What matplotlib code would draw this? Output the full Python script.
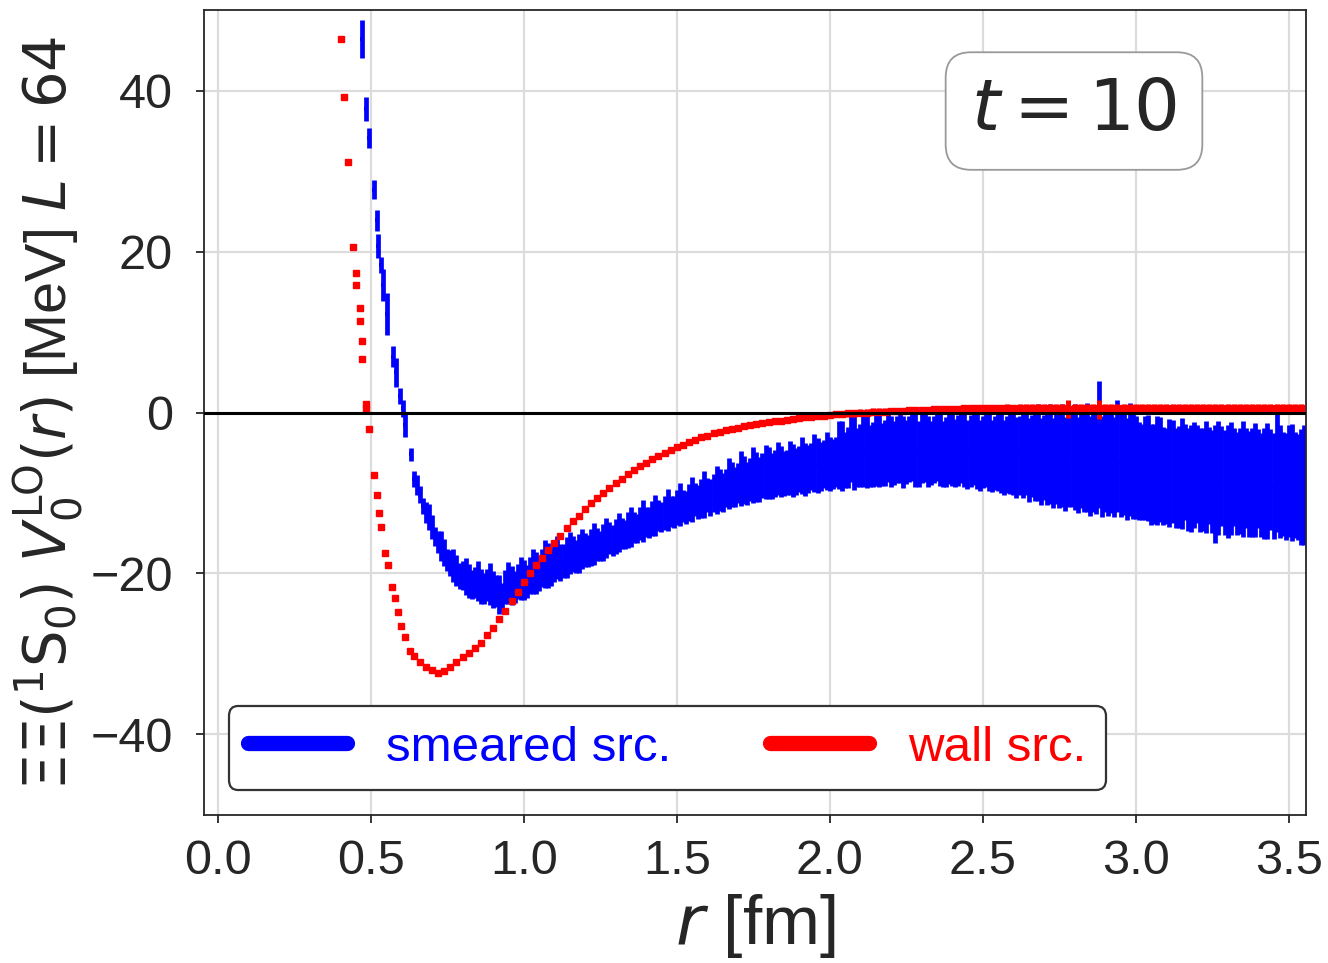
import matplotlib
matplotlib.use("Agg")
import matplotlib.pyplot as plt
from matplotlib.lines import Line2D

plt.rcParams["font.family"] = ["Liberation Sans", "DejaVu Sans"]
plt.rcParams["mathtext.fontset"] = "dejavusans"

# ---- smeared source: r [fm], V [MeV], statistical error [MeV] ----
# lattice points on the even 0.02 fm sites
r_smeared_a = [
    0.470, 0.484, 0.494, 0.510, 0.519, 0.525, 0.533, 0.539, 0.554, 0.573,
    0.584, 0.595, 0.605, 0.611, 0.631,
    0.64, 0.66, 0.68, 0.70, 0.72, 0.74, 0.76, 0.78, 0.80, 0.82,
    0.84, 0.86, 0.88, 0.90, 0.92, 0.94, 0.96, 0.98, 1.00, 1.02,
    1.04, 1.06, 1.08, 1.10, 1.12, 1.14, 1.16, 1.18, 1.20, 1.22,
    1.24, 1.26, 1.28, 1.30, 1.32, 1.34, 1.36, 1.38, 1.40, 1.42,
    1.44, 1.46, 1.48, 1.50, 1.52, 1.54, 1.56, 1.58, 1.60, 1.62,
    1.64, 1.66, 1.68, 1.70, 1.72, 1.74, 1.76, 1.78, 1.80, 1.82,
    1.84, 1.86, 1.88, 1.90, 1.92, 1.94, 1.96, 1.98, 2.00, 2.02,
    2.04, 2.06, 2.08, 2.10, 2.12, 2.14, 2.16, 2.18, 2.20, 2.22,
    2.24, 2.26, 2.28, 2.30, 2.32, 2.34, 2.36, 2.38, 2.40, 2.42,
    2.44, 2.46, 2.48, 2.50, 2.52, 2.54, 2.56, 2.58, 2.60, 2.62,
    2.64, 2.66, 2.68, 2.70, 2.72, 2.74, 2.76, 2.78, 2.80, 2.82,
    2.84, 2.86, 2.88, 2.90, 2.92, 2.94, 2.96, 2.98, 3.00, 3.02,
    3.04, 3.06, 3.08, 3.10, 3.12, 3.14, 3.16, 3.18, 3.20, 3.22,
    3.24, 3.26, 3.28, 3.30, 3.32, 3.34, 3.36, 3.38, 3.40, 3.42,
    3.44, 3.46, 3.48, 3.50, 3.52, 3.54,
]
V_smeared_a = [
    46.4, 37.7, 34.1, 27.7, 23.9, 20.7, 18.3, 15.8, 12.2, 6.9,
    5.0, 2.1, 0.5, -1.6, -5.2,
    -8.3, -10.2, -12.4, -14.2, -16.1, -17.4, -18.7, -19.6, -20.3, -20.9,
    -21.1, -21.6, -21.4, -22.0, -22.6, -21.7, -21.5, -21.0, -20.8, -20.2,
    -19.9, -19.3, -19.0, -18.5, -18.6, -18.0, -17.6, -17.5, -17.1, -16.8,
    -16.4, -16.2, -15.6, -15.4, -15.0, -14.6, -14.3, -13.8, -13.6, -13.2,
    -12.8, -12.5, -12.3, -11.8, -11.6, -11.2, -10.8, -10.7, -10.2, -10.0,
    -9.6, -9.4, -9.0, -8.8, -8.4, -8.3, -8.0, -7.8, -7.5, -7.6,
    -7.3, -7.4, -7.2, -7.0, -7.1, -6.7, -6.6, -6.4, -6.4, -6.1,
    -5.4, -5.6, -5.0, -5.3, -4.9, -5.2, -4.7, -5.0, -4.8, -4.6,
    -4.9, -4.5, -4.7, -4.4, -4.8, -4.6, -4.4, -4.9, -4.5, -4.7,
    -4.4, -4.8, -4.6, -4.9, -4.7, -5.0, -4.8, -5.2, -4.9, -5.3,
    -4.7, -5.4, -5.0, -5.6, -5.2, -5.8, -5.3, -5.9, -5.5, -6.0,
    -5.6, -6.1, -4.0, -5.8, -6.2, -5.4, -6.3, -5.8, -6.8, -7.4,
    -6.9, -7.6, -7.1, -7.9, -7.3, -8.0, -7.4, -8.2, -7.6, -8.3,
    -7.8, -8.9, -7.9, -8.6, -8.0, -8.5, -8.1, -8.7, -8.2, -8.8,
    -8.3, -7.0, -8.9, -8.5, -9.0, -9.2,
]
err_smeared_a = [
    2.3, 1.5, 1.3, 1.2, 1.3, 1.5, 1.0, 2.0, 2.6, 1.3,
    1.8, 1.0, 1.0, 1.5, 0.8,
    1.0, 1.1, 1.3, 1.5, 1.4, 1.7, 1.6, 1.9, 1.8, 2.1,
    1.9, 2.2, 2.0, 2.3, 2.4, 2.1, 2.4, 2.2, 2.5, 2.3,
    2.6, 2.4, 2.8, 2.6, 2.3, 2.5, 2.2, 2.4, 2.1, 2.3,
    2.0, 2.3, 2.0, 2.2, 1.9, 2.2, 1.9, 2.1, 1.9, 2.2,
    1.9, 2.1, 1.9, 2.2, 2.0, 2.3, 2.0, 2.4, 2.1, 2.3,
    2.6, 2.4, 2.8, 2.5, 3.0, 2.7, 3.1, 2.8, 3.2, 2.9,
    3.2, 2.8, 3.3, 2.9, 3.3, 2.9, 3.4, 3.0, 3.3, 3.1,
    4.4, 3.8, 4.6, 3.9, 4.5, 4.0, 4.6, 4.1, 4.4, 4.2,
    4.5, 4.1, 4.6, 4.3, 4.4, 4.2, 4.7, 4.3, 4.6, 4.4,
    4.8, 4.5, 4.9, 4.5, 5.0, 4.6, 5.2, 4.8, 5.4, 4.9,
    5.6, 5.1, 6.0, 5.3, 6.2, 5.6, 6.4, 5.8, 6.6, 5.9,
    6.8, 6.2, 7.9, 6.6, 6.3, 7.0, 6.4, 7.0, 6.4, 6.0,
    6.6, 6.2, 6.5, 6.0, 6.4, 6.3, 6.0, 6.6, 6.1, 6.4,
    6.0, 7.3, 6.2, 7.0, 6.1, 6.6, 6.2, 6.8, 6.2, 6.9,
    6.3, 7.8, 6.5, 7.0, 6.6, 7.2,
]

# lattice points on the odd 0.02 fm sites
r_smeared_b = [
    0.65, 0.67, 0.69, 0.71, 0.73, 0.75, 0.77, 0.79, 0.81, 0.83,
    0.85, 0.87, 0.89, 0.91, 0.93, 0.95, 0.97, 0.99, 1.01, 1.03,
    1.05, 1.07, 1.09, 1.11, 1.13, 1.15, 1.17, 1.19, 1.21, 1.23,
    1.25, 1.27, 1.29, 1.31, 1.33, 1.35, 1.37, 1.39, 1.41, 1.43,
    1.45, 1.47, 1.49, 1.51, 1.53, 1.55, 1.57, 1.59, 1.61, 1.63,
    1.65, 1.67, 1.69, 1.71, 1.73, 1.75, 1.77, 1.79, 1.81, 1.83,
    1.85, 1.87, 1.89, 1.91, 1.93, 1.95, 1.97, 1.99, 2.01, 2.03,
    2.05, 2.07, 2.09, 2.11, 2.13, 2.15, 2.17, 2.19, 2.21, 2.23,
    2.25, 2.27, 2.29, 2.31, 2.33, 2.35, 2.37, 2.39, 2.41, 2.43,
    2.45, 2.47, 2.49, 2.51, 2.53, 2.55, 2.57, 2.59, 2.61, 2.63,
    2.65, 2.67, 2.69, 2.71, 2.73, 2.75, 2.77, 2.79, 2.81, 2.83,
    2.85, 2.87, 2.89, 2.91, 2.93, 2.95, 2.97, 2.99, 3.01, 3.03,
    3.05, 3.07, 3.09, 3.11, 3.13, 3.15, 3.17, 3.19, 3.21, 3.23,
    3.25, 3.27, 3.29, 3.31, 3.33, 3.35, 3.37, 3.39, 3.41, 3.43,
    3.45, 3.47, 3.49, 3.51, 3.53, 3.55,
]
V_smeared_b = [
    -9.0, -11.6, -13.0, -15.4, -16.6, -18.3, -19.0, -20.3, -20.4, -21.4,
    -20.9, -21.9, -21.3, -22.2, -22.9, -21.2, -21.7, -20.6, -21.0, -19.8,
    -20.0, -18.8, -19.2, -18.0, -18.4, -17.5, -17.9, -17.0, -17.2, -16.3,
    -16.6, -15.6, -15.9, -14.9, -15.2, -14.2, -14.4, -13.5, -13.7, -12.8,
    -13.0, -12.1, -12.4, -11.4, -11.8, -10.8, -11.1, -10.2, -10.5, -9.6,
    -9.9, -8.8, -9.3, -8.2, -8.8, -7.8, -8.3, -7.4, -7.9, -7.0,
    -7.6, -6.9, -7.3, -6.6, -7.0, -6.3, -6.7, -6.0, -6.4, -5.3,
    -5.9, -4.2, -5.6, -4.6, -5.4, -4.4, -5.2, -4.3, -5.0, -4.2,
    -4.9, -4.1, -5.1, -4.3, -5.0, -4.0, -5.1, -4.3, -5.0, -4.1,
    -5.2, -4.4, -5.3, -4.3, -5.4, -4.5, -5.6, -4.6, -5.6, -5.3,
    -5.9, -5.2, -6.1, -5.6, -6.3, -5.7, -6.4, -5.5, -6.5, -5.9,
    -6.6, -6.0, -6.7, -6.1, -6.8, -6.2, -7.0, -6.4, -7.3, -6.9,
    -7.7, -7.2, -7.9, -7.5, -8.1, -7.6, -8.3, -7.8, -8.4, -8.0,
    -8.6, -8.1, -8.7, -8.2, -8.8, -8.3, -8.9, -8.4, -9.0, -8.5,
    -9.1, -8.6, -9.2, -8.7, -9.3, -9.0,
]
err_smeared_b = [
    1.2, 1.0, 1.6, 1.2, 1.9, 1.4, 2.1, 1.6, 2.3, 1.8,
    2.5, 1.9, 2.6, 2.0, 1.7, 2.6, 2.0, 2.7, 2.1, 2.8,
    2.2, 3.0, 2.3, 2.7, 2.1, 2.6, 2.0, 2.5, 2.0, 2.6,
    1.9, 2.5, 1.9, 2.4, 1.8, 2.5, 1.8, 2.6, 1.9, 2.5,
    1.9, 2.6, 2.0, 2.7, 2.0, 2.8, 2.1, 2.9, 2.3, 3.0,
    2.4, 3.2, 2.5, 3.4, 2.7, 3.5, 2.8, 3.4, 2.9, 3.3,
    2.8, 3.4, 2.9, 3.5, 3.0, 3.6, 3.0, 3.6, 3.1, 4.2,
    3.5, 4.4, 3.7, 4.6, 3.8, 4.7, 3.9, 4.3, 4.0, 4.6,
    4.0, 4.4, 4.1, 4.3, 4.0, 4.5, 4.1, 4.6, 4.2, 4.7,
    4.3, 4.6, 4.4, 5.0, 4.5, 5.3, 4.7, 5.5, 5.0, 5.3,
    5.2, 5.8, 5.4, 5.9, 5.6, 6.2, 5.8, 6.3, 6.0, 6.4,
    6.2, 6.6, 6.3, 6.7, 6.2, 6.8, 6.3, 6.8, 6.1, 6.5,
    6.3, 6.8, 6.1, 6.7, 6.2, 6.9, 6.4, 6.6, 6.5, 7.0,
    6.4, 7.1, 6.5, 7.0, 6.4, 7.2, 6.6, 7.1, 6.5, 7.2,
    6.6, 7.0, 6.7, 7.3, 6.6, 7.4,
]

# ---- wall source: r [fm], V [MeV], statistical error [MeV] ----
r_wall = [
    0.404, 0.413, 0.424, 0.443, 0.453, 0.453, 0.464, 0.464, 0.470, 0.470,
    0.484, 0.484, 0.494, 0.510, 0.520, 0.526, 0.535, 0.546, 0.555, 0.570,
    0.578, 0.589, 0.600, 0.611, 0.627,
    0.64, 0.66, 0.68, 0.70, 0.72, 0.74, 0.76, 0.78, 0.80, 0.82,
    0.84, 0.86, 0.88, 0.90, 0.92, 0.94, 0.96, 0.98, 1.00, 1.02,
    1.04, 1.06, 1.08, 1.10, 1.12, 1.14, 1.16, 1.18, 1.20, 1.22,
    1.24, 1.26, 1.28, 1.30, 1.32, 1.34, 1.36, 1.38, 1.40, 1.42,
    1.44, 1.46, 1.48, 1.50, 1.52, 1.54, 1.56, 1.58, 1.60, 1.62,
    1.64, 1.66, 1.68, 1.70, 1.72, 1.74, 1.76, 1.78, 1.80, 1.82,
    1.84, 1.86, 1.88, 1.90, 1.92, 1.94, 1.96, 1.98, 2.00, 2.02,
    2.04, 2.06, 2.08, 2.10, 2.12, 2.14, 2.16, 2.18, 2.20, 2.22,
    2.24, 2.26, 2.28, 2.30, 2.32, 2.34, 2.36, 2.38, 2.40, 2.42,
    2.44, 2.46, 2.48, 2.50, 2.52, 2.54, 2.56, 2.58, 2.60, 2.62,
    2.64, 2.66, 2.68, 2.70, 2.72, 2.74, 2.76, 2.78, 2.80, 2.82,
    2.84, 2.86, 2.88, 2.90, 2.92, 2.94, 2.96, 2.98, 3.00, 3.02,
    3.04, 3.06, 3.08, 3.10, 3.12, 3.14, 3.16, 3.18, 3.20, 3.22,
    3.24, 3.26, 3.28, 3.30, 3.32, 3.34, 3.36, 3.38, 3.40, 3.42,
    3.44, 3.46, 3.48, 3.50, 3.52, 3.54,
]
V_wall = [
    46.4, 39.2, 31.1, 20.5, 17.3, 15.9, 13.0, 11.4, 8.9, 6.7,
    1.1, 0.4, -2.1, -7.8, -10.2, -12.5, -14.2, -17.4, -19.0, -21.7,
    -23.1, -24.8, -26.5, -27.9, -29.6,
    -30.3, -31.0, -31.6, -32.0, -32.3, -32.1, -31.6, -31.0, -30.4, -29.9,
    -29.3, -28.6, -27.7, -26.8, -25.7, -24.6, -23.4, -22.3, -21.1, -20.0,
    -19.0, -18.1, -17.1, -16.2, -15.3, -14.3, -13.5, -12.8, -12.0, -11.3,
    -10.6, -10.0, -9.4, -8.8, -8.2, -7.7, -7.2, -6.7, -6.3, -5.8,
    -5.4, -5.0, -4.7, -4.3, -4.0, -3.7, -3.4, -3.1, -2.9, -2.6,
    -2.4, -2.2, -2.0, -1.9, -1.7, -1.6, -1.4, -1.3, -1.2, -1.1,
    -1.0, -0.9, -0.8, -0.7, -0.6, -0.5, -0.4, -0.4, -0.3, -0.2,
    -0.2, -0.1, -0.1, 0.0, 0.0, 0.1, 0.1, 0.1, 0.2, 0.2,
    0.2, 0.3, 0.3, 0.3, 0.3, 0.4, 0.4, 0.4, 0.4, 0.4,
    0.5, 0.5, 0.5, 0.5, 0.5, 0.5, 0.5, 0.6, 0.5, 0.6,
    0.6, 0.6, 0.6, 0.6, 0.6, 0.6, 0.6, 0.4, 0.6, 0.6,
    0.6, 0.6, 0.4, 0.6, 0.6, 0.6, 0.6, 0.6, 0.6, 0.6,
    0.6, 0.6, 0.6, 0.6, 0.6, 0.6, 0.6, 0.6, 0.6, 0.6,
    0.6, 0.6, 0.6, 0.6, 0.6, 0.6, 0.6, 0.6, 0.6, 0.6,
    0.6, 0.6, 0.6, 0.6, 0.6, 0.6,
]
err_wall = [
    0.1, 0.1, 0.1, 0.1, 0.1, 0.1, 0.1, 0.1, 0.1, 0.1,
    0.1, 0.1, 0.1, 0.1, 0.1, 0.1, 0.1, 0.1, 0.1, 0.1,
    0.1, 0.1, 0.1, 0.1, 0.1,
    0.2, 0.2, 0.2, 0.2, 0.2, 0.2, 0.2, 0.2, 0.2, 0.2,
    0.2, 0.2, 0.2, 0.2, 0.2, 0.2, 0.2, 0.2, 0.2, 0.2,
    0.2, 0.2, 0.2, 0.2, 0.3, 0.3, 0.3, 0.3, 0.3, 0.3,
    0.3, 0.3, 0.3, 0.3, 0.3, 0.3, 0.3, 0.3, 0.3, 0.3,
    0.3, 0.3, 0.3, 0.3, 0.3, 0.3, 0.3, 0.3, 0.3, 0.3,
    0.3, 0.3, 0.3, 0.3, 0.3, 0.3, 0.3, 0.3, 0.3, 0.3,
    0.3, 0.3, 0.3, 0.3, 0.3, 0.3, 0.3, 0.3, 0.3, 0.4,
    0.4, 0.4, 0.4, 0.4, 0.4, 0.4, 0.4, 0.4, 0.4, 0.4,
    0.4, 0.4, 0.4, 0.4, 0.4, 0.4, 0.4, 0.4, 0.4, 0.4,
    0.4, 0.4, 0.4, 0.4, 0.4, 0.4, 0.4, 0.4, 0.4, 0.4,
    0.4, 0.4, 0.4, 0.4, 0.4, 0.4, 0.4, 1.1, 0.4, 0.4,
    0.4, 0.4, 1.2, 0.4, 0.4, 0.4, 0.4, 0.4, 0.4, 0.4,
    0.4, 0.4, 0.4, 0.4, 0.4, 0.4, 0.4, 0.4, 0.4, 0.4,
    0.4, 0.4, 0.4, 0.4, 0.4, 0.4, 0.4, 0.4, 0.4, 0.4,
    0.4, 0.4, 0.4, 0.4, 0.4, 0.4,
]

x_ticks = [0.0, 0.5, 1.0, 1.5, 2.0, 2.5, 3.0, 3.5]
y_ticks = [-40, -20, 0, 20, 40]
series_labels = ["smeared src.", "wall src."]
series_colors = ["#0000ff", "#ff0000"]
time_slice_label = r"$t = 10$"

TEXT = "#262626"

r_smeared = r_smeared_a + r_smeared_b
V_smeared = V_smeared_a + V_smeared_b
err_smeared = err_smeared_a + err_smeared_b

fig = plt.figure(figsize=(13.28, 9.63), dpi=100)
ax = fig.add_axes([0.1536, 0.1537, 0.8298, 0.8359])

ax.errorbar(r_smeared, V_smeared, yerr=err_smeared, fmt="s", ms=3, mew=0,
            color=series_colors[0], ecolor=series_colors[0],
            elinewidth=3.4, capsize=0, zorder=2)
ax.errorbar(r_wall, V_wall, yerr=err_wall, fmt="s", ms=4.2, mew=1.0,
            color=series_colors[1], ecolor=series_colors[1],
            elinewidth=3.6, capsize=0, zorder=3)
ax.axhline(0.0, color="black", lw=2.2, zorder=4)

ax.set_xlim(-0.045, 3.556)
ax.set_ylim(-50, 50)
ax.set_xticks(x_ticks)
ax.set_xticklabels([f"{v:.1f}" for v in x_ticks])
ax.set_yticks(y_ticks)

ax.grid(True, color="#dcdcdc", lw=1.6, zorder=0)
ax.set_axisbelow(True)
for sp in ax.spines.values():
    sp.set_color("#262626")
    sp.set_linewidth(1.3)
ax.tick_params(axis="both", labelsize=35, colors=TEXT, length=5.8, width=1.3,
               direction="out")
ax.tick_params(axis="x", pad=11.5)
ax.tick_params(axis="y", pad=16.5)

ax.set_xlabel(r"$r$ [fm]", fontsize=50, color=TEXT, labelpad=5.5)
ax.set_ylabel(r"$\Xi\Xi(^1\mathrm{S}_0)\ V_0^{\mathrm{LO}}(r)$ [MeV] $L = 64$",
              fontsize=41.5, color=TEXT, labelpad=4)

handles = [Line2D([], [], color=c, lw=11, solid_capstyle="round") for c in series_colors]
leg = ax.legend(handles, series_labels, loc="lower left", ncol=2, fontsize=35.5,
                frameon=True, fancybox=True, borderaxespad=0.5,
                handlelength=2.0, handletextpad=0.8, columnspacing=2.0)
leg.get_frame().set_edgecolor("#333333")
leg.get_frame().set_linewidth(1.6)
leg.get_frame().set_alpha(1.0)
for txt, c in zip(leg.get_texts(), series_colors):
    txt.set_color(c)

ax.text(0.7895, 0.8745, time_slice_label, transform=ax.transAxes,
        ha="center", va="center", fontsize=52, color=TEXT, zorder=6,
        bbox=dict(boxstyle="round,pad=0.35", facecolor="white",
                  edgecolor="#999999", lw=1.3))

fig.savefig("out.png", dpi=100)
